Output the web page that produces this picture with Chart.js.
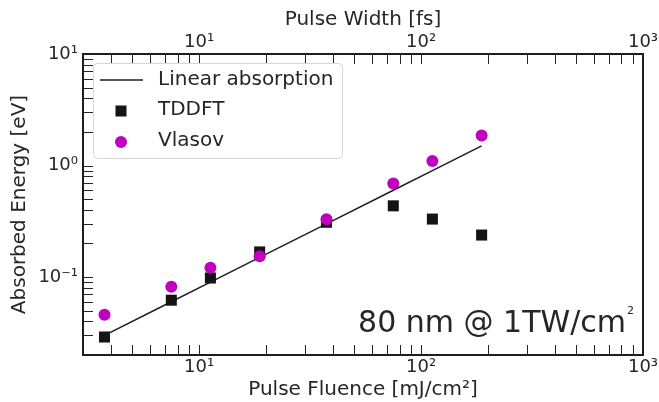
<!DOCTYPE html>
<html>
<head>
<meta charset="utf-8">
<script src="https://cdn.jsdelivr.net/npm/chart.js@4/dist/chart.umd.min.js"></script>
<style>
  html, body { margin: 0; padding: 0; background: #fff; }
  #wrap { width: 659px; height: 402px; }
</style>
</head>
<body>
<div id="wrap"><canvas id="absorptionChart" width="659" height="402"></canvas></div>
<script>
// values
const fluence = [3.75, 7.5, 11.25, 18.75, 37.5, 75, 112.5, 187.5];
const tddftEnergy = [0.029, 0.062, 0.098, 0.168, 0.31, 0.435, 0.331, 0.238];
const vlasovEnergy = [0.046, 0.082, 0.121, 0.154, 0.33, 0.69, 1.10, 1.86];
const linearEnergy = [0.03, 0.06, 0.09, 0.15, 0.3, 0.6, 0.9, 1.5];

const xTickValues = [10, 100, 1000];
const yTickValues = [0.1, 1, 10];
const supers = { '-1': '\u207B\u00B9', '0': '\u2070', '1': '\u00B9', '2': '\u00B2', '3': '\u00B3' };

const TEXT = '#262626';
const MAGENTA = '#bf00bf';
const FONT = "'DejaVu Sans', sans-serif";

Chart.defaults.font.family = FONT;
Chart.defaults.color = TEXT;

const toPoints = (ys) => fluence.map((x, i) => ({ x: x, y: ys[i] }));
const powLabel = (v) => '10' + supers[String(Math.round(Math.log10(v)))];

function setTicks(values) {
    return (scale) => { scale.ticks = values.map(v => ({ value: v })); };
}

function fixSize(prop, size) {
    return (scale) => {
        scale[prop] = size;
        scale.paddingLeft = 0; scale.paddingRight = 0;
        scale.paddingTop = 0; scale.paddingBottom = 0;
    };
}

function minorValues(min, max) {
    const out = [];
    for (let k = Math.floor(Math.log10(min)); k <= Math.ceil(Math.log10(max)); k++) {
        for (let m = 1; m <= 9; m++) {
            const v = m * Math.pow(10, k);
            if (v >= min * 0.999 && v <= max * 1.001) out.push(v);
        }
    }
    return out;
}

// spines, inward tick marks, annotation and legend box
const framePlugin = {
    id: 'frame',
    afterDraw(chart) {
        const ctx = chart.ctx;
        const a = chart.chartArea;
        const xs = chart.scales.x, ys = chart.scales.y;
        const len = 10;
        ctx.save();
        ctx.strokeStyle = TEXT;
        ctx.lineWidth = 1;
        ctx.beginPath();
        minorValues(3, 1000).forEach(v => {
            const px = Math.round(xs.getPixelForValue(v)) + 0.5;
            if (px <= a.left + 1 || px >= a.right - 1) return;
            ctx.moveTo(px, a.bottom); ctx.lineTo(px, a.bottom - len);
            ctx.moveTo(px, a.top); ctx.lineTo(px, a.top + len);
        });
        minorValues(0.02, 10).forEach(v => {
            const py = Math.round(ys.getPixelForValue(v)) + 0.5;
            if (py <= a.top + 1 || py >= a.bottom - 1) return;
            ctx.moveTo(a.left, py); ctx.lineTo(a.left + len, py);
        });
        ctx.stroke();

        ctx.lineWidth = 2;
        ctx.strokeStyle = '#1e1e1e';
        ctx.strokeRect(a.left, a.top, a.right - a.left, a.bottom - a.top);

        // annotation
        ctx.fillStyle = TEXT;
        ctx.textBaseline = 'alphabetic';
        ctx.textAlign = 'right';
        ctx.font = '30px ' + FONT;
        ctx.fillText('80 nm @ 1TW/cm', 626, 332);
        ctx.textAlign = 'left';
        ctx.font = '11px ' + FONT;
        ctx.fillText('2', 627, 314);

        // legend
        const lx = 93.5, ly = 63.5, lw = 249, lh = 95;
        ctx.beginPath();
        ctx.roundRect(lx, ly, lw, lh, 4);
        ctx.fillStyle = 'rgba(255,255,255,0.85)';
        ctx.fill();
        ctx.strokeStyle = '#d6d6d6';
        ctx.lineWidth = 1;
        ctx.stroke();

        const ds = chart.data.datasets;
        const rowY = [80, 110, 141];
        ctx.font = '20px ' + FONT;
        ctx.textBaseline = 'middle';
        ds.forEach((d, i) => {
            const y = rowY[i];
            if (d.showLine) {
                ctx.beginPath();
                ctx.moveTo(100, y); ctx.lineTo(143, y);
                ctx.strokeStyle = d.borderColor;
                ctx.lineWidth = d.borderWidth;
                ctx.stroke();
            } else if (d.pointStyle === 'rect') {
                ctx.fillStyle = d.backgroundColor;
                ctx.fillRect(121 - 5.5, y + 1 - 5.5, 11, 11);
            } else {
                ctx.beginPath();
                ctx.arc(121, y + 1, 6, 0, Math.PI * 2);
                ctx.fillStyle = d.backgroundColor;
                ctx.fill();
            }
            ctx.fillStyle = TEXT;
            ctx.fillText(d.label, 158, y);
        });
        ctx.restore();
    }
};

const noGrid = { display: false, drawTicks: false };

new Chart(document.getElementById('absorptionChart'), {
    type: 'scatter',
    data: {
        datasets: [
            {
                label: 'Linear absorption',
                data: toPoints(linearEnergy),
                showLine: true,
                borderColor: '#1e1e1e',
                borderWidth: 1.5,
                pointRadius: 0,
                order: 3
            },
            {
                label: 'TDDFT',
                data: toPoints(tddftEnergy),
                pointStyle: 'rect',
                pointRadius: 7.8,
                backgroundColor: '#141414',
                borderWidth: 0,
                order: 2
            },
            {
                label: 'Vlasov',
                data: toPoints(vlasovEnergy),
                pointStyle: 'circle',
                pointRadius: 6,
                backgroundColor: MAGENTA,
                borderWidth: 0,
                order: 1
            }
        ]
    },
    options: {
        responsive: false,
        animation: false,
        layout: { padding: { left: 0, right: 16, top: 0, bottom: 0 } },
        plugins: {
            legend: { display: false },
            tooltip: { enabled: false }
        },
        scales: {
            x: {
                type: 'logarithmic',
                position: 'bottom',
                min: 3, max: 1000,
                grid: noGrid,
                border: { display: false },
                afterBuildTicks: setTicks(xTickValues),
                afterFit: fixSize('height', 47),
                ticks: { callback: powLabel, font: { size: 18 }, padding: 2, maxRotation: 0, autoSkip: false },
                title: { display: true, text: 'Pulse Fluence [mJ/cm\u00B2]', font: { size: 20 }, padding: { top: 0, bottom: 0 } }
            },
            x2: {
                type: 'logarithmic',
                position: 'top',
                min: 3, max: 1000,
                grid: noGrid,
                border: { display: false },
                afterBuildTicks: setTicks(xTickValues),
                afterFit: fixSize('height', 54),
                ticks: { callback: powLabel, font: { size: 18 }, padding: 1, maxRotation: 0, autoSkip: false },
                title: { display: true, text: 'Pulse Width [fs]', font: { size: 20 }, padding: { top: 8, bottom: 0 } }
            },
            y: {
                type: 'logarithmic',
                min: 0.02, max: 10,
                grid: noGrid,
                border: { display: false },
                afterBuildTicks: setTicks(yTickValues),
                afterFit: fixSize('width', 83),
                ticks: { callback: powLabel, font: { size: 18 }, padding: 5, autoSkip: false },
                title: { display: true, text: 'Absorbed Energy [eV]', font: { size: 20 }, padding: { top: 8, bottom: 0 } }
            }
        }
    },
    plugins: [framePlugin]
});
</script>
</body>
</html>
